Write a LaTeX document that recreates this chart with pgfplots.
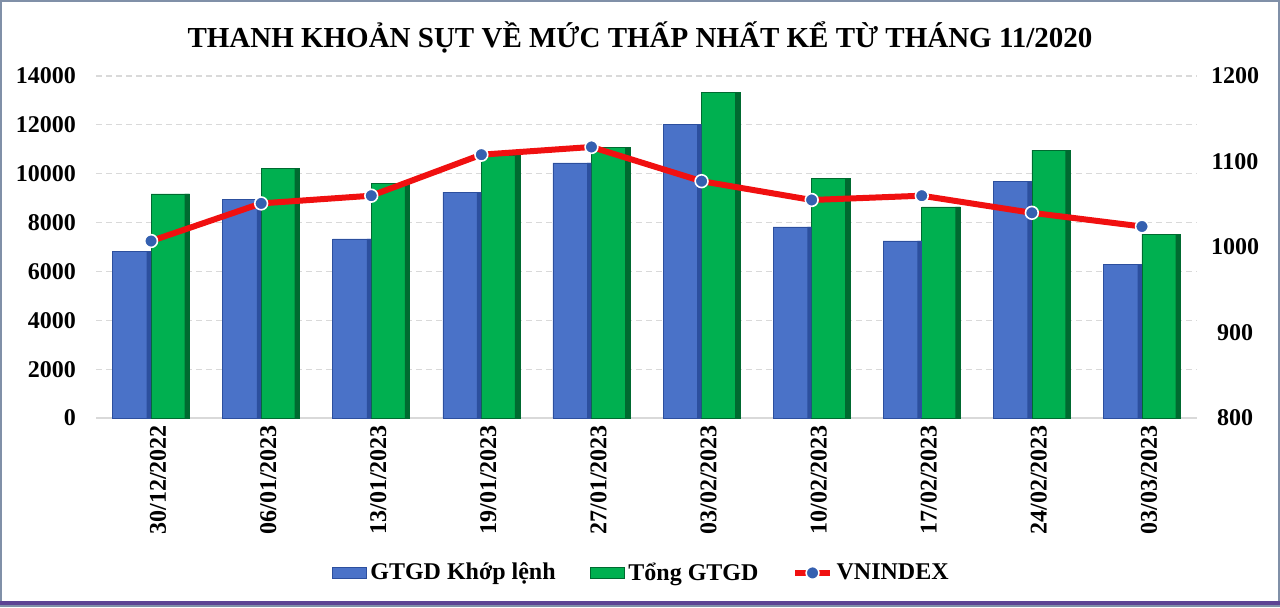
\documentclass[border=0pt]{standalone}
\usepackage{fontspec}
\setmainfont{Liberation Serif}
\usepackage{pgfplots}
\pgfplotsset{compat=1.18}
\usepackage{pgfplotstable}

\definecolor{bluemid}{HTML}{4A72C8}
\definecolor{bluedark}{HTML}{2C4F9E}
\definecolor{greenmid}{HTML}{00B050}
\definecolor{greendark}{HTML}{006A30}
\definecolor{linered}{HTML}{F01010}
\definecolor{markblue}{HTML}{3560B0}
\definecolor{gridgray}{HTML}{D9D9D9}
\definecolor{framegray}{HTML}{8090A8}
\definecolor{framepurple}{HTML}{5E4494}

% weekly values
\pgfplotstableread{
idx khop tong vnindex
0 6830 9170 1007
1 8960 10230 1051
2 7330 9620 1060
3 9250 10770 1108
4 10440 11090 1117
5 12030 13340 1077
6 7820 9820 1055
7 7250 8640 1060
8 9700 10970 1040
9 6300 7530 1024
}\weekly

\pgfplotsset{
  blueBar/.style={fill=bluemid, draw=bluedark, line width=0.3pt},
  greenBar/.style={fill=greenmid, draw=greendark, line width=0.3pt},
  bigfont/.style={font=\bfseries\fontsize{12}{14}\selectfont},
}

\begin{document}
\begin{tikzpicture}
\useasboundingbox (0,0) rectangle (640pt,303.5pt);

\begin{axis}[
    at={(48pt,94.5pt)}, anchor=south west,
    scale only axis,
    width=550.5pt, height=171pt,
    xmin=-0.5, xmax=9.5,
    ymin=0, ymax=14000,
    ytick={0,2000,...,14000},
    scaled y ticks=false,
    xtick={0,...,9},
    xticklabels={30/12/2022,06/01/2023,13/01/2023,19/01/2023,27/01/2023,03/02/2023,10/02/2023,17/02/2023,24/02/2023,03/03/2023},
    xticklabel style={bigfont, rotate=90, anchor=east, yshift=-3.5pt},
    yticklabel style={bigfont, xshift=-6.5pt},
    /pgf/number format/assume math mode=true,
    /pgf/number format/1000 sep={},
    major tick length=0pt,
    axis line style={draw=none},
    ymajorgrids,
    grid style={gridgray, dash pattern=on 3pt off 2pt, line width=0.6pt},
]
\draw[gridgray, line width=0.8pt] (axis cs:-0.5,0) -- (axis cs:9.5,0);
\addplot[ybar, bar width=0.35, bar shift=-0.175, blueBar] table[x=idx, y=khop] {\weekly};
\addplot[ybar, bar width=0.35, bar shift=0.175, greenBar] table[x=idx, y=tong] {\weekly};
% darker right edge of each bar
\addplot[ybar, bar width=0.04, bar shift=-0.02, fill=bluedark, draw=none] table[x=idx, y=khop] {\weekly};
\addplot[ybar, bar width=0.045, bar shift=0.3275, fill=greendark, draw=none] table[x=idx, y=tong] {\weekly};
\end{axis}

\begin{axis}[
    at={(48pt,94.5pt)}, anchor=south west,
    scale only axis,
    width=550.5pt, height=171pt,
    xmin=-0.5, xmax=9.5,
    ymin=800, ymax=1200,
    ytick={800,900,...,1200},
    hide x axis,
    axis y line*=right,
    y axis line style={draw=none},
    major tick length=0pt,
    yticklabel style={bigfont, anchor=center, xshift=19pt},
    /pgf/number format/assume math mode=true,
    /pgf/number format/1000 sep={},
    legend columns=-1,
    legend style={bigfont, draw=none, fill=none,
        at={(0.496,-0.453)}, anchor=center,
        /tikz/every even column/.append style={column sep=15pt},
        inner sep=0pt},
]
\addlegendimage{area legend, blueBar}
\addlegendentry{GTGD Khớp lệnh}
\addlegendimage{area legend, greenBar}
\addlegendentry{Tổng GTGD}
\addplot[linered, line width=3pt, mark=*, mark size=3.2pt,
    mark options={fill=markblue, draw=white, line width=0.8pt}]
    table[x=idx, y=vnindex] {\weekly};
\addlegendentry{VNINDEX}
\end{axis}

\node[font=\bfseries\fontsize{14.5}{17}\selectfont] at (320pt,285pt)
    {THANH KHOẢN SỤT VỀ MỨC THẤP NHẤT KỂ TỪ THÁNG 11/2020};

\draw[framegray, line width=0.8pt] (0.4pt,0.4pt) rectangle (639.6pt,303.1pt);
\draw[framepurple, line width=1.6pt] (0,2pt) -- (640pt,2pt);
\end{tikzpicture}
\end{document}
